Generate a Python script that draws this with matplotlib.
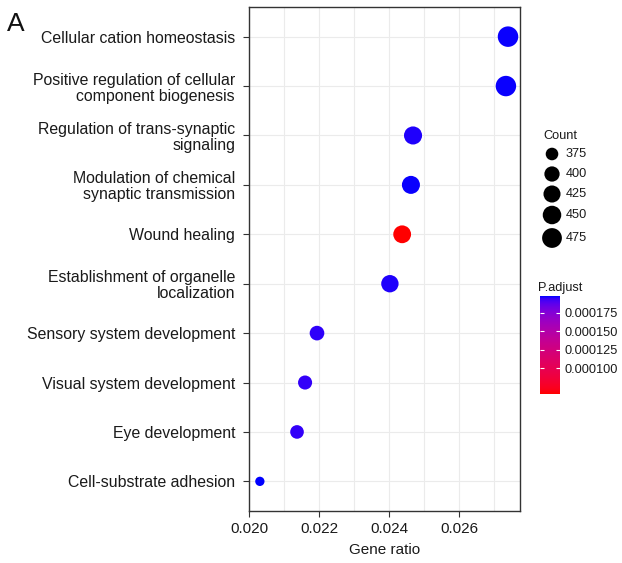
import numpy as np
import matplotlib
matplotlib.use("Agg")
import matplotlib.pyplot as plt
from matplotlib.colors import LinearSegmentedColormap, Normalize

plt.rcParams['font.family'] = ['Liberation Sans', 'DejaVu Sans']

# data (top to bottom)
terms = [
    "Cellular cation homeostasis",
    "Positive regulation of cellular\ncomponent biogenesis",
    "Regulation of trans-synaptic\nsignaling",
    "Modulation of chemical\nsynaptic transmission",
    "Wound healing",
    "Establishment of organelle\nlocalization",
    "Sensory system development",
    "Visual system development",
    "Eye development",
    "Cell-substrate adhesion",
]
gene_ratio = [0.02739, 0.02733, 0.02468, 0.02462, 0.02437, 0.02402, 0.02194, 0.02160, 0.02137, 0.02031]
counts = [491, 490, 442, 441, 437, 430, 393, 387, 383, 364]
p_adjust = [0.000197, 0.000197, 0.000196, 0.000197, 0.0000653, 0.000196, 0.0001945, 0.000194, 0.000194, 0.0001976]

size_breaks = [375, 400, 425, 450, 475]
p_breaks = [0.000100, 0.000125, 0.000150, 0.000175]
x_ticks = [0.020, 0.022, 0.024, 0.026]

W, H = 622, 563


# red -> blue gradient interpolated in Lab, like ggplot's continuous scale
def srgb_to_lab(c):
    c = np.asarray(c, float)
    lin = np.where(c <= 0.04045, c / 12.92, ((c + 0.055) / 1.055) ** 2.4)
    M = np.array([[0.4124, 0.3576, 0.1805], [0.2126, 0.7152, 0.0722], [0.0193, 0.1192, 0.9505]])
    xyz = M @ lin / np.array([0.95047, 1.0, 1.08883])
    f = np.where(xyz > 0.008856, np.cbrt(xyz), 7.787 * xyz + 16 / 116)
    return np.array([116 * f[1] - 16, 500 * (f[0] - f[1]), 200 * (f[1] - f[2])])


def lab_to_srgb(lab):
    L, a, b = lab
    fy = (L + 16) / 116
    f = np.array([fy + a / 500, fy, fy - b / 200])
    xyz = np.where(f ** 3 > 0.008856, f ** 3, (f - 16 / 116) / 7.787) * np.array([0.95047, 1.0, 1.08883])
    Minv = np.array([[3.2406, -1.5372, -0.4986], [-0.9689, 1.8758, 0.0415], [0.0557, -0.2040, 1.0570]])
    lin = Minv @ xyz
    lin = np.clip(lin, 0, 1)
    c = np.where(lin <= 0.0031308, 12.92 * lin, 1.055 * lin ** (1 / 2.4) - 0.055)
    return np.clip(c, 0, 1)


lab_r = srgb_to_lab([1, 0, 0])
lab_b = srgb_to_lab([0, 0, 1])
stops = [lab_to_srgb(lab_r + (lab_b - lab_r) * t) for t in np.linspace(0, 1, 64)]
cmap = LinearSegmentedColormap.from_list("rb", stops)
norm = Normalize(vmin=min(p_adjust), vmax=max(p_adjust))

# point diameters (px), area scaling between min and max count
dmin, dmax = 9.3, 20.5
cmin, cmax = min(counts), max(counts)


def size_of(c):
    c = np.asarray(c, float)
    d = dmin + (dmax - dmin) * np.sqrt((c - cmin) / (cmax - cmin))
    return (d * 72 / 100) ** 2


fig = plt.figure(figsize=(W / 100, H / 100), dpi=100)
ax = fig.add_axes([249 / W, (H - 511) / H, 271 / W, 504 / H])

ypos = np.arange(len(terms))[::-1]
sc = ax.scatter(gene_ratio, ypos, s=size_of(counts), c=p_adjust, cmap=cmap, norm=norm,
                linewidths=0, zorder=3)

ax.set_ylim(-0.6, len(terms) - 0.4)
ax.set_xlim(0.02, 0.027732)
ax.set_yticks(ypos)
ax.set_yticklabels(terms, fontsize=11.4, color='#1a1a1a')
for t in ax.get_yticklabels():
    t.set_linespacing(1.08)
ax.set_xticks(x_ticks)
ax.set_xticklabels([f"{v:.3f}" for v in x_ticks], fontsize=11, color='#1a1a1a')
ax.set_xticks(np.arange(0.021, 0.0278, 0.002), minor=True)
ax.tick_params(axis='y', which='major', length=4.5, width=0.8, color='#333333', pad=5.5)
ax.tick_params(axis='x', which='major', length=4.5, width=0.8, color='#333333', pad=3.5)
ax.tick_params(axis='x', which='minor', length=0)
ax.grid(True, which='both', color='#ebebeb', linewidth=0.8, zorder=0)
ax.set_axisbelow(True)
for sp in ax.spines.values():
    sp.set_color('#333333')
    sp.set_linewidth(1.0)
ax.set_xlabel("Gene ratio", fontsize=11, color='#1a1a1a', labelpad=5)

fig.text(7 / W, 1 - 31 / H, "A", fontsize=19, color='#111111')

# size legend
fig.text(543 / W, 1 - 139 / H, "Count", fontsize=9.2, color='#1a1a1a')
lax = fig.add_axes([540 / W, (H - 250) / H, 30 / W, 106 / H])
leg_y = [154, 174, 194, 215, 238]
lax.set_xlim(0, 30)
lax.set_ylim(250, 144)
lax.axis('off')
lax.scatter([12] * len(size_breaks), leg_y, s=size_of(size_breaks), color='black', linewidths=0)
for yy, v in zip(leg_y, size_breaks):
    lax.text(26, yy, str(v), fontsize=9.2, va='center', color='#1a1a1a')

# colour bar
fig.text(538 / W, 1 - 291 / H, "P.adjust", fontsize=9.2, color='#1a1a1a')
cax = fig.add_axes([540 / W, (H - 394) / H, 20 / W, 98 / H])
cb = fig.colorbar(sc, cax=cax, ticks=p_breaks)
cb.outline.set_visible(False)
cb.ax.set_yticklabels([f"{v:.6f}" for v in p_breaks], fontsize=9.2, color='#1a1a1a')
cb.ax.tick_params(length=3, width=0.8, color='white', direction='in', pad=3,
                  left=True, right=True)

fig.savefig("out.png", dpi=100)
